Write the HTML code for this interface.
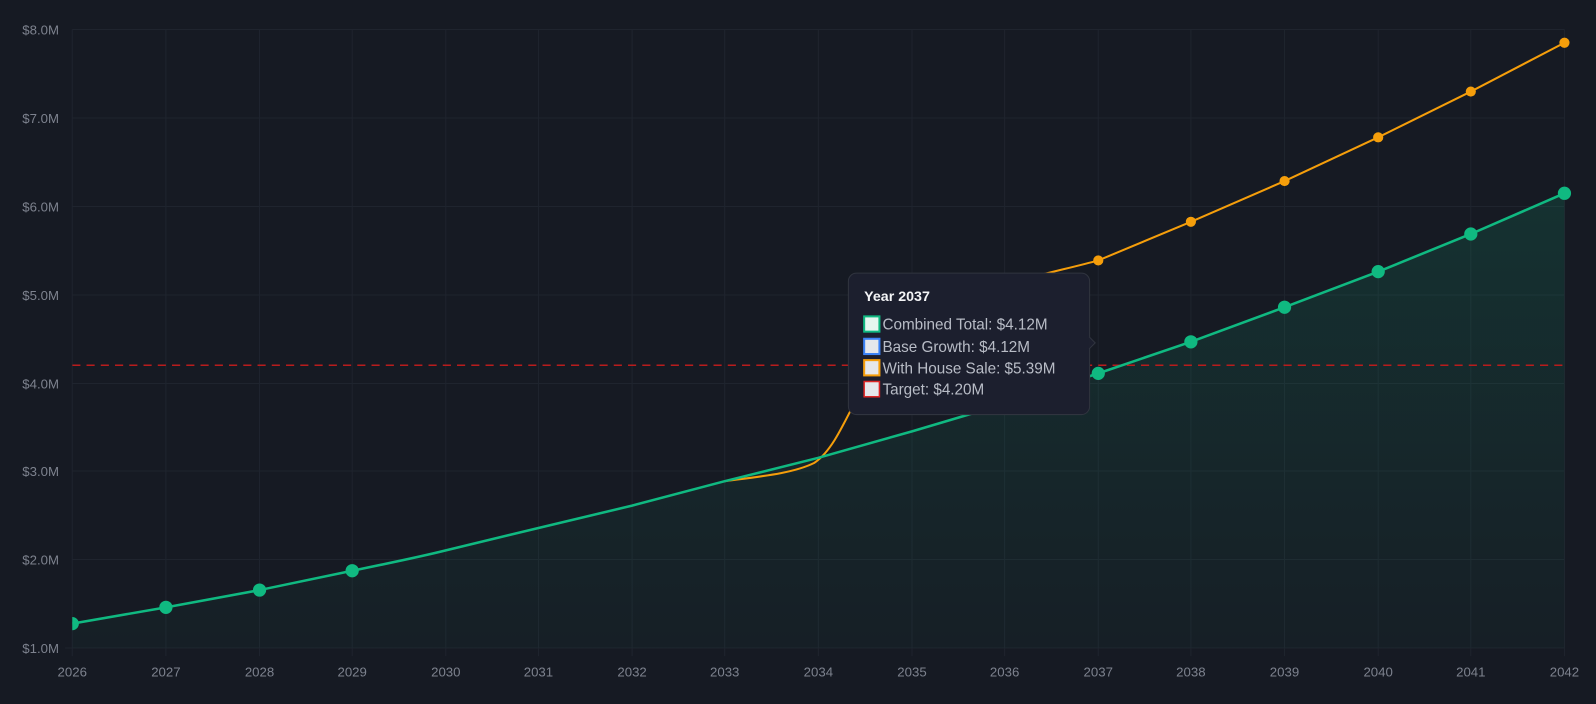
<!DOCTYPE html>
<html><head><style>
html,body{margin:0;padding:0;background:#161a23;}
svg{display:block}
text{font-family:"Liberation Sans",sans-serif}
</style></head><body>
<svg width="1596" height="704" viewBox="0 0 1568 692" preserveAspectRatio="none">
<defs>
<linearGradient id="g" x1="0" y1="0" x2="0" y2="1">
<stop offset="0" stop-color="#10b981" stop-opacity="0.15"/>
<stop offset="1" stop-color="#10b981" stop-opacity="0.03"/>
</linearGradient>
<clipPath id="c"><rect x="71" y="0" width="1497" height="692"/></clipPath>
</defs>
<rect width="1568" height="692" fill="#161a23"/>
<g stroke="#1f242e" stroke-width="1">
<line x1="71" y1="29" x2="1537" y2="29"/><line x1="71" y1="116" x2="1537" y2="116"/>
<line x1="71" y1="203" x2="1537" y2="203"/><line x1="71" y1="290" x2="1537" y2="290"/>
<line x1="71" y1="377" x2="1537" y2="377"/><line x1="71" y1="463" x2="1537" y2="463"/>
<line x1="71" y1="550" x2="1537" y2="550"/><line x1="64" y1="637" x2="1537" y2="637"/>
<line x1="71" y1="29" x2="71" y2="645"/><line x1="163" y1="29" x2="163" y2="645"/>
<line x1="255" y1="29" x2="255" y2="645"/><line x1="346" y1="29" x2="346" y2="645"/>
<line x1="438" y1="29" x2="438" y2="645"/><line x1="529" y1="29" x2="529" y2="645"/>
<line x1="621" y1="29" x2="621" y2="645"/><line x1="712" y1="29" x2="712" y2="645"/>
<line x1="804" y1="29" x2="804" y2="645"/><line x1="896" y1="29" x2="896" y2="645"/>
<line x1="987" y1="29" x2="987" y2="645"/><line x1="1079" y1="29" x2="1079" y2="645"/>
<line x1="1170" y1="29" x2="1170" y2="645"/><line x1="1262" y1="29" x2="1262" y2="645"/>
<line x1="1354" y1="29" x2="1354" y2="645"/><line x1="1445" y1="29" x2="1445" y2="645"/>
<line x1="1537" y1="29" x2="1537" y2="645"/>
</g>
<g fill="#7d828e" font-size="13" text-anchor="end">
<text x="58" y="34">$8.0M</text><text x="58" y="121">$7.0M</text><text x="58" y="208">$6.0M</text>
<text x="58" y="295">$5.0M</text><text x="58" y="382">$4.0M</text><text x="58" y="468">$3.0M</text>
<text x="58" y="555">$2.0M</text><text x="58" y="642">$1.0M</text>
</g>
<g fill="#7d828e" font-size="13" text-anchor="middle">
<text x="71" y="665">2026</text><text x="163" y="665">2027</text><text x="255" y="665">2028</text>
<text x="346" y="665">2029</text><text x="438" y="665">2030</text><text x="529" y="665">2031</text>
<text x="621" y="665">2032</text><text x="712" y="665">2033</text><text x="804" y="665">2034</text>
<text x="896" y="665">2035</text><text x="987" y="665">2036</text><text x="1079" y="665">2037</text>
<text x="1170" y="665">2038</text><text x="1262" y="665">2039</text><text x="1354" y="665">2040</text>
<text x="1445" y="665">2041</text><text x="1537" y="665">2042</text>
</g>
<g clip-path="url(#c)">
<path d="M71,613 L163,597 L255,580 L346,561 L438,541 L529,519 L621,497 L712,473 L804,450 L896,424 L987,397 L1079,367 L1170,336 L1262,302 L1354,267 L1445,230 L1537,190 L1537,637 L71,637Z" fill="url(#g)"/>
<line x1="71" y1="359" x2="1537" y2="359" stroke="#b91c1c" stroke-width="1.5" stroke-dasharray="8,6"/>
<path d="M712,473 C750,468 780,465 800,455 C815,445 825,425 840,395 C870,340 920,305 970,285 C1010,272 1050,264 1079,256 L1170,218 L1262,178 L1354,135 L1445,90 L1537,42" fill="none" stroke="#f59e0b" stroke-width="2"/>
<path d="M71,613 L163,597 L255,580 L346,561 C380,554 410,548 438,541 L529,519 L621,497 L712,473 L804,450 L896,424 L987,397 L1079,367 L1170,336 L1262,302 L1354,267 L1445,230 L1537,190" fill="none" stroke="#10b981" stroke-width="2.5"/>
<g fill="#f59e0b"><circle cx="1079" cy="256" r="5"/><circle cx="1170" cy="218" r="5"/><circle cx="1262" cy="178" r="5"/><circle cx="1354" cy="135" r="5"/><circle cx="1445" cy="90" r="5"/><circle cx="1537" cy="42" r="5"/></g>
<g fill="#10b981"><circle cx="71" cy="613" r="6.5"/><circle cx="163" cy="597" r="6.5"/><circle cx="255" cy="580" r="6.5"/><circle cx="346" cy="561" r="6.5"/><circle cx="1079" cy="367" r="6.5"/><circle cx="1170" cy="336" r="6.5"/><circle cx="1262" cy="302" r="6.5"/><circle cx="1354" cy="267" r="6.5"/><circle cx="1445" cy="230" r="6.5"/><circle cx="1537" cy="190" r="6.5"/></g>
</g>
<rect x="833.5" y="268.5" width="237" height="139" rx="8" fill="#1c1f2e" stroke="#30343f"/>
<path d="M1070,331 L1076,337 L1070,343" fill="#1c1f2e" stroke="#30343f"/>
<text x="849" y="296" font-size="14" font-weight="bold" fill="#f3f4f6">Year 2037</text>
<g font-size="15" fill="#b8bcc6">
<rect x="849" y="311" width="15" height="15" fill="#e6f7ef" stroke="#10b981" stroke-width="2"/>
<text x="867" y="324">Combined Total: $4.12M</text>
<rect x="849" y="333" width="15" height="15" fill="#e5e7eb" stroke="#3b82f6" stroke-width="2"/>
<text x="867" y="346">Base Growth: $4.12M</text>
<rect x="849" y="354" width="15" height="15" fill="#e5e7eb" stroke="#f59e0b" stroke-width="2"/>
<text x="867" y="367">With House Sale: $5.39M</text>
<rect x="849" y="375" width="15" height="15" fill="#e5e7eb" stroke="#dc2626" stroke-width="1.5"/>
<text x="867" y="388">Target: $4.20M</text>
</g>
</svg>
</body></html>
